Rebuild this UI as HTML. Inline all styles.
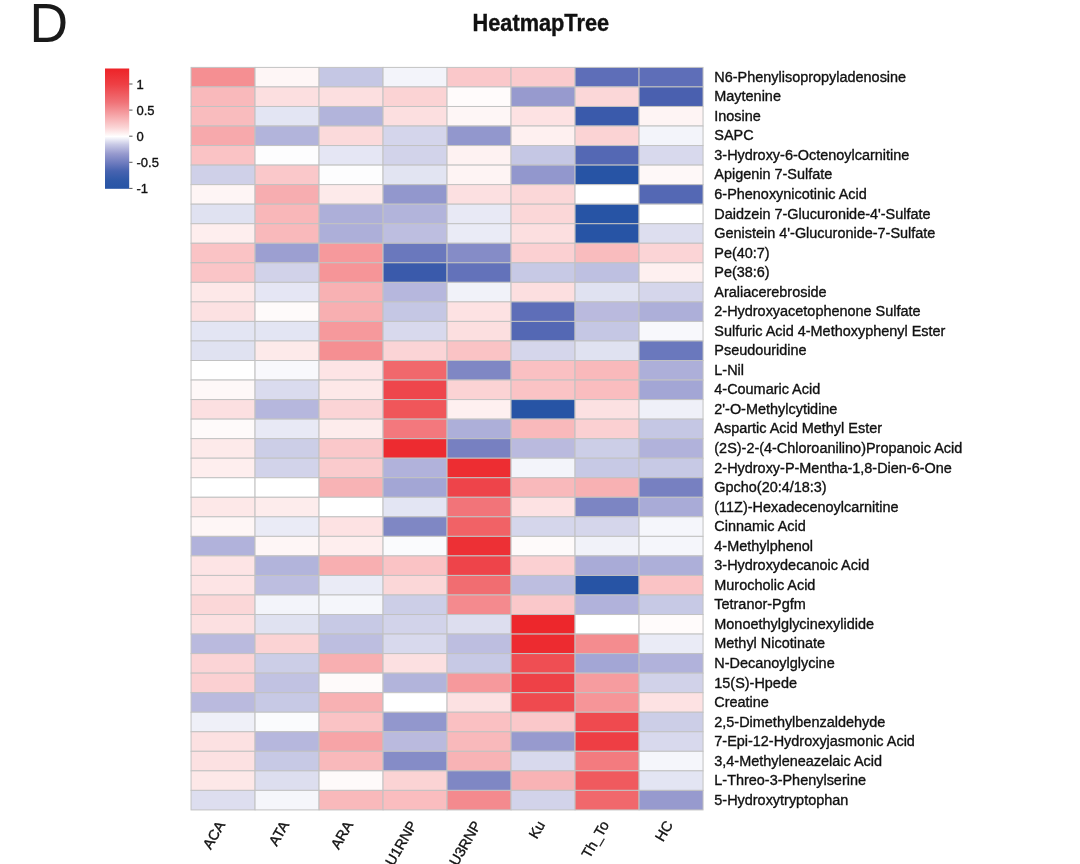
<!DOCTYPE html>
<html><head><meta charset="utf-8"><title>HeatmapTree</title>
<style>
html,body{margin:0;padding:0;background:#fff;}
body{width:1080px;height:864px;overflow:hidden;position:relative;font-family:"Liberation Sans",sans-serif;}
svg{position:absolute;left:0;top:0;}
text{font-family:"Liberation Sans",sans-serif;fill:#111;stroke:#111;stroke-width:0.35px;}
</style></head><body>
<svg width="1080" height="864" viewBox="0 0 1080 864">
<defs><linearGradient id="lg" x1="0" y1="0" x2="0" y2="1">
<stop offset="0.0000" stop-color="#ED2328"/><stop offset="0.1304" stop-color="#EE3F44"/><stop offset="0.2826" stop-color="#F07378"/><stop offset="0.3913" stop-color="#F6A6A9"/><stop offset="0.4913" stop-color="#FBD5D6"/><stop offset="0.5652" stop-color="#FFFFFF"/><stop offset="0.6304" stop-color="#C9CAE6"/><stop offset="0.7087" stop-color="#979ACE"/><stop offset="0.7826" stop-color="#6F7CBF"/><stop offset="0.8522" stop-color="#4763B0"/><stop offset="0.9261" stop-color="#3059A8"/><stop offset="1.0000" stop-color="#2754A5"/></linearGradient></defs>
<text transform="translate(29.4,42.3) scale(0.955,1)" font-size="56" style="fill:#1a1a1a;stroke:none">D</text>
<text transform="translate(540.8,31.3) scale(1,1.06)" font-size="21.75" font-weight="bold" text-anchor="middle">HeatmapTree</text>
<rect x="105" y="68.5" width="24.2" height="120.3" fill="url(#lg)"/>
<line x1="129.2" x2="132.5" y1="84.0" y2="84.0" stroke="#555" stroke-width="1"/><text x="136.5" y="88.7" font-size="13">1</text>
<line x1="129.2" x2="132.5" y1="110.1" y2="110.1" stroke="#555" stroke-width="1"/><text x="136.5" y="114.8" font-size="13">0.5</text>
<line x1="129.2" x2="132.5" y1="136.2" y2="136.2" stroke="#555" stroke-width="1"/><text x="136.5" y="140.9" font-size="13">0</text>
<line x1="129.2" x2="132.5" y1="162.3" y2="162.3" stroke="#555" stroke-width="1"/><text x="136.5" y="167.0" font-size="13">-0.5</text>
<line x1="129.2" x2="132.5" y1="188.4" y2="188.4" stroke="#555" stroke-width="1"/><text x="136.5" y="193.1" font-size="13">-1</text>
<g stroke="#C2C2C2" stroke-width="1">
<rect x="191.05" y="67.40" width="64.00" height="19.54" fill="#F58F92"/><rect x="255.05" y="67.40" width="64.00" height="19.54" fill="#FEF6F6"/><rect x="319.05" y="67.40" width="64.00" height="19.54" fill="#C5C7E4"/><rect x="383.05" y="67.40" width="64.00" height="19.54" fill="#F3F4FA"/><rect x="447.05" y="67.40" width="64.00" height="19.54" fill="#FAC8CA"/><rect x="511.05" y="67.40" width="64.00" height="19.54" fill="#FACBCD"/><rect x="575.05" y="67.40" width="64.00" height="19.54" fill="#5E6EB8"/><rect x="639.05" y="67.40" width="64.00" height="19.54" fill="#5E6EB8"/>
<rect x="191.05" y="86.94" width="64.00" height="19.54" fill="#F9B9BB"/><rect x="255.05" y="86.94" width="64.00" height="19.54" fill="#FCDFE0"/><rect x="319.05" y="86.94" width="64.00" height="19.54" fill="#FCDFE0"/><rect x="383.05" y="86.94" width="64.00" height="19.54" fill="#FBD3D4"/><rect x="447.05" y="86.94" width="64.00" height="19.54" fill="#FFFBFB"/><rect x="511.05" y="86.94" width="64.00" height="19.54" fill="#979ACE"/><rect x="575.05" y="86.94" width="64.00" height="19.54" fill="#FBD7D8"/><rect x="639.05" y="86.94" width="64.00" height="19.54" fill="#4A60AF"/>
<rect x="191.05" y="106.48" width="64.00" height="19.54" fill="#F9BCBE"/><rect x="255.05" y="106.48" width="64.00" height="19.54" fill="#E3E5F3"/><rect x="319.05" y="106.48" width="64.00" height="19.54" fill="#B2B4DB"/><rect x="383.05" y="106.48" width="64.00" height="19.54" fill="#FCDFE0"/><rect x="447.05" y="106.48" width="64.00" height="19.54" fill="#FEF6F6"/><rect x="511.05" y="106.48" width="64.00" height="19.54" fill="#FDE2E3"/><rect x="575.05" y="106.48" width="64.00" height="19.54" fill="#3A5AAB"/><rect x="639.05" y="106.48" width="64.00" height="19.54" fill="#FEF4F4"/>
<rect x="191.05" y="126.02" width="64.00" height="19.54" fill="#F7A9AC"/><rect x="255.05" y="126.02" width="64.00" height="19.54" fill="#B2B4DB"/><rect x="319.05" y="126.02" width="64.00" height="19.54" fill="#FBDADB"/><rect x="383.05" y="126.02" width="64.00" height="19.54" fill="#D4D5EB"/><rect x="447.05" y="126.02" width="64.00" height="19.54" fill="#9297CD"/><rect x="511.05" y="126.02" width="64.00" height="19.54" fill="#FEF0F0"/><rect x="575.05" y="126.02" width="64.00" height="19.54" fill="#FBD3D4"/><rect x="639.05" y="126.02" width="64.00" height="19.54" fill="#F3F4FA"/>
<rect x="191.05" y="145.56" width="64.00" height="19.54" fill="#FAC3C5"/><rect x="255.05" y="145.56" width="64.00" height="19.54" fill="#FDFDFE"/><rect x="319.05" y="145.56" width="64.00" height="19.54" fill="#E5E6F4"/><rect x="383.05" y="145.56" width="64.00" height="19.54" fill="#D2D3EA"/><rect x="447.05" y="145.56" width="64.00" height="19.54" fill="#FEF2F2"/><rect x="511.05" y="145.56" width="64.00" height="19.54" fill="#C5C7E4"/><rect x="575.05" y="145.56" width="64.00" height="19.54" fill="#5468B4"/><rect x="639.05" y="145.56" width="64.00" height="19.54" fill="#D8D9ED"/>
<rect x="191.05" y="165.10" width="64.00" height="19.54" fill="#CFD0E8"/><rect x="255.05" y="165.10" width="64.00" height="19.54" fill="#FAC8CA"/><rect x="319.05" y="165.10" width="64.00" height="19.54" fill="#FDFDFE"/><rect x="383.05" y="165.10" width="64.00" height="19.54" fill="#E2E4F2"/><rect x="447.05" y="165.10" width="64.00" height="19.54" fill="#FEF4F4"/><rect x="511.05" y="165.10" width="64.00" height="19.54" fill="#9297CD"/><rect x="575.05" y="165.10" width="64.00" height="19.54" fill="#2754A5"/><rect x="639.05" y="165.10" width="64.00" height="19.54" fill="#FEF8F8"/>
<rect x="191.05" y="184.64" width="64.00" height="19.54" fill="#FEF5F5"/><rect x="255.05" y="184.64" width="64.00" height="19.54" fill="#F7ADB0"/><rect x="319.05" y="184.64" width="64.00" height="19.54" fill="#FDEAEA"/><rect x="383.05" y="184.64" width="64.00" height="19.54" fill="#9297CD"/><rect x="447.05" y="184.64" width="64.00" height="19.54" fill="#FCE0E1"/><rect x="511.05" y="184.64" width="64.00" height="19.54" fill="#FBD7D8"/><rect x="575.05" y="184.64" width="64.00" height="19.54" fill="#FFFFFF"/><rect x="639.05" y="184.64" width="64.00" height="19.54" fill="#5468B4"/>
<rect x="191.05" y="204.18" width="64.00" height="19.54" fill="#E0E2F1"/><rect x="255.05" y="204.18" width="64.00" height="19.54" fill="#F9B7B9"/><rect x="319.05" y="204.18" width="64.00" height="19.54" fill="#ADAFD9"/><rect x="383.05" y="204.18" width="64.00" height="19.54" fill="#B2B4DB"/><rect x="447.05" y="204.18" width="64.00" height="19.54" fill="#E8E9F5"/><rect x="511.05" y="204.18" width="64.00" height="19.54" fill="#FBD7D8"/><rect x="575.05" y="204.18" width="64.00" height="19.54" fill="#2754A5"/><rect x="639.05" y="204.18" width="64.00" height="19.54" fill="#FFFFFF"/>
<rect x="191.05" y="223.72" width="64.00" height="19.54" fill="#FEEEEE"/><rect x="255.05" y="223.72" width="64.00" height="19.54" fill="#F9B9BB"/><rect x="319.05" y="223.72" width="64.00" height="19.54" fill="#ADAFD9"/><rect x="383.05" y="223.72" width="64.00" height="19.54" fill="#BDBEE0"/><rect x="447.05" y="223.72" width="64.00" height="19.54" fill="#EAEBF6"/><rect x="511.05" y="223.72" width="64.00" height="19.54" fill="#FCDFE0"/><rect x="575.05" y="223.72" width="64.00" height="19.54" fill="#2754A5"/><rect x="639.05" y="223.72" width="64.00" height="19.54" fill="#DDDEEF"/>
<rect x="191.05" y="243.26" width="64.00" height="19.54" fill="#FAC3C5"/><rect x="255.05" y="243.26" width="64.00" height="19.54" fill="#9C9FD1"/><rect x="319.05" y="243.26" width="64.00" height="19.54" fill="#F6999C"/><rect x="383.05" y="243.26" width="64.00" height="19.54" fill="#6A78BD"/><rect x="447.05" y="243.26" width="64.00" height="19.54" fill="#858CC7"/><rect x="511.05" y="243.26" width="64.00" height="19.54" fill="#FBD0D2"/><rect x="575.05" y="243.26" width="64.00" height="19.54" fill="#F9BCBE"/><rect x="639.05" y="243.26" width="64.00" height="19.54" fill="#FBD4D6"/>
<rect x="191.05" y="262.80" width="64.00" height="19.54" fill="#FAC5C7"/><rect x="255.05" y="262.80" width="64.00" height="19.54" fill="#D1D2E9"/><rect x="319.05" y="262.80" width="64.00" height="19.54" fill="#F69598"/><rect x="383.05" y="262.80" width="64.00" height="19.54" fill="#3A5AAB"/><rect x="447.05" y="262.80" width="64.00" height="19.54" fill="#6372BA"/><rect x="511.05" y="262.80" width="64.00" height="19.54" fill="#C7C9E5"/><rect x="575.05" y="262.80" width="64.00" height="19.54" fill="#BEC0E1"/><rect x="639.05" y="262.80" width="64.00" height="19.54" fill="#FEF0F0"/>
<rect x="191.05" y="282.34" width="64.00" height="19.54" fill="#FDE8E8"/><rect x="255.05" y="282.34" width="64.00" height="19.54" fill="#E5E6F4"/><rect x="319.05" y="282.34" width="64.00" height="19.54" fill="#F8B1B3"/><rect x="383.05" y="282.34" width="64.00" height="19.54" fill="#B6B7DD"/><rect x="447.05" y="282.34" width="64.00" height="19.54" fill="#F1F2F9"/><rect x="511.05" y="282.34" width="64.00" height="19.54" fill="#FCDFE0"/><rect x="575.05" y="282.34" width="64.00" height="19.54" fill="#E0E2F1"/><rect x="639.05" y="282.34" width="64.00" height="19.54" fill="#D5D6EB"/>
<rect x="191.05" y="301.88" width="64.00" height="19.54" fill="#FCE1E2"/><rect x="255.05" y="301.88" width="64.00" height="19.54" fill="#FEFAFA"/><rect x="319.05" y="301.88" width="64.00" height="19.54" fill="#F8AFB1"/><rect x="383.05" y="301.88" width="64.00" height="19.54" fill="#C5C7E4"/><rect x="447.05" y="301.88" width="64.00" height="19.54" fill="#FDE2E3"/><rect x="511.05" y="301.88" width="64.00" height="19.54" fill="#5E6EB8"/><rect x="575.05" y="301.88" width="64.00" height="19.54" fill="#BABADE"/><rect x="639.05" y="301.88" width="64.00" height="19.54" fill="#ADAFD9"/>
<rect x="191.05" y="321.42" width="64.00" height="19.54" fill="#E3E5F3"/><rect x="255.05" y="321.42" width="64.00" height="19.54" fill="#E3E5F3"/><rect x="319.05" y="321.42" width="64.00" height="19.54" fill="#F6999C"/><rect x="383.05" y="321.42" width="64.00" height="19.54" fill="#D8D9ED"/><rect x="447.05" y="321.42" width="64.00" height="19.54" fill="#FCDFE0"/><rect x="511.05" y="321.42" width="64.00" height="19.54" fill="#5468B4"/><rect x="575.05" y="321.42" width="64.00" height="19.54" fill="#C5C7E4"/><rect x="639.05" y="321.42" width="64.00" height="19.54" fill="#F8F8FC"/>
<rect x="191.05" y="340.96" width="64.00" height="19.54" fill="#E0E2F1"/><rect x="255.05" y="340.96" width="64.00" height="19.54" fill="#FDEAEA"/><rect x="319.05" y="340.96" width="64.00" height="19.54" fill="#F58F92"/><rect x="383.05" y="340.96" width="64.00" height="19.54" fill="#FBD4D6"/><rect x="447.05" y="340.96" width="64.00" height="19.54" fill="#FAC3C5"/><rect x="511.05" y="340.96" width="64.00" height="19.54" fill="#D5D6EB"/><rect x="575.05" y="340.96" width="64.00" height="19.54" fill="#E0E2F1"/><rect x="639.05" y="340.96" width="64.00" height="19.54" fill="#6A78BD"/>
<rect x="191.05" y="360.50" width="64.00" height="19.54" fill="#FFFFFF"/><rect x="255.05" y="360.50" width="64.00" height="19.54" fill="#F8F8FC"/><rect x="319.05" y="360.50" width="64.00" height="19.54" fill="#FDE4E5"/><rect x="383.05" y="360.50" width="64.00" height="19.54" fill="#F1686C"/><rect x="447.05" y="360.50" width="64.00" height="19.54" fill="#7F87C4"/><rect x="511.05" y="360.50" width="64.00" height="19.54" fill="#FAC0C2"/><rect x="575.05" y="360.50" width="64.00" height="19.54" fill="#F9B9BB"/><rect x="639.05" y="360.50" width="64.00" height="19.54" fill="#ADAFD9"/>
<rect x="191.05" y="380.04" width="64.00" height="19.54" fill="#FEF8F8"/><rect x="255.05" y="380.04" width="64.00" height="19.54" fill="#DADBEE"/><rect x="319.05" y="380.04" width="64.00" height="19.54" fill="#FDE8E8"/><rect x="383.05" y="380.04" width="64.00" height="19.54" fill="#EE464C"/><rect x="447.05" y="380.04" width="64.00" height="19.54" fill="#FBD3D4"/><rect x="511.05" y="380.04" width="64.00" height="19.54" fill="#FAC3C5"/><rect x="575.05" y="380.04" width="64.00" height="19.54" fill="#FABDBF"/><rect x="639.05" y="380.04" width="64.00" height="19.54" fill="#A3A6D5"/>
<rect x="191.05" y="399.58" width="64.00" height="19.54" fill="#FCE0E1"/><rect x="255.05" y="399.58" width="64.00" height="19.54" fill="#B6B7DD"/><rect x="319.05" y="399.58" width="64.00" height="19.54" fill="#FBD4D6"/><rect x="383.05" y="399.58" width="64.00" height="19.54" fill="#F0565A"/><rect x="447.05" y="399.58" width="64.00" height="19.54" fill="#FEF0F0"/><rect x="511.05" y="399.58" width="64.00" height="19.54" fill="#2754A5"/><rect x="575.05" y="399.58" width="64.00" height="19.54" fill="#FCE1E2"/><rect x="639.05" y="399.58" width="64.00" height="19.54" fill="#EFF0F8"/>
<rect x="191.05" y="419.12" width="64.00" height="19.54" fill="#FEFAFA"/><rect x="255.05" y="419.12" width="64.00" height="19.54" fill="#E8E9F5"/><rect x="319.05" y="419.12" width="64.00" height="19.54" fill="#FDECEC"/><rect x="383.05" y="419.12" width="64.00" height="19.54" fill="#F3787D"/><rect x="447.05" y="419.12" width="64.00" height="19.54" fill="#ADAFD9"/><rect x="511.05" y="419.12" width="64.00" height="19.54" fill="#F9B9BB"/><rect x="575.05" y="419.12" width="64.00" height="19.54" fill="#FBD0D2"/><rect x="639.05" y="419.12" width="64.00" height="19.54" fill="#C5C7E4"/>
<rect x="191.05" y="438.66" width="64.00" height="19.54" fill="#FDEAEA"/><rect x="255.05" y="438.66" width="64.00" height="19.54" fill="#CCCEE7"/><rect x="319.05" y="438.66" width="64.00" height="19.54" fill="#FAC8CA"/><rect x="383.05" y="438.66" width="64.00" height="19.54" fill="#ED2B30"/><rect x="447.05" y="438.66" width="64.00" height="19.54" fill="#7780C1"/><rect x="511.05" y="438.66" width="64.00" height="19.54" fill="#BABADE"/><rect x="575.05" y="438.66" width="64.00" height="19.54" fill="#CCCEE7"/><rect x="639.05" y="438.66" width="64.00" height="19.54" fill="#B1B2DB"/>
<rect x="191.05" y="458.20" width="64.00" height="19.54" fill="#FEEEEE"/><rect x="255.05" y="458.20" width="64.00" height="19.54" fill="#D2D3EA"/><rect x="319.05" y="458.20" width="64.00" height="19.54" fill="#FACBCD"/><rect x="383.05" y="458.20" width="64.00" height="19.54" fill="#B1B2DB"/><rect x="447.05" y="458.20" width="64.00" height="19.54" fill="#ED2D32"/><rect x="511.05" y="458.20" width="64.00" height="19.54" fill="#F3F4FA"/><rect x="575.05" y="458.20" width="64.00" height="19.54" fill="#C7C9E5"/><rect x="639.05" y="458.20" width="64.00" height="19.54" fill="#C7C9E5"/>
<rect x="191.05" y="477.74" width="64.00" height="19.54" fill="#FFFFFF"/><rect x="255.05" y="477.74" width="64.00" height="19.54" fill="#FFFFFF"/><rect x="319.05" y="477.74" width="64.00" height="19.54" fill="#F8B3B5"/><rect x="383.05" y="477.74" width="64.00" height="19.54" fill="#A3A6D5"/><rect x="447.05" y="477.74" width="64.00" height="19.54" fill="#EE444A"/><rect x="511.05" y="477.74" width="64.00" height="19.54" fill="#F9B9BB"/><rect x="575.05" y="477.74" width="64.00" height="19.54" fill="#F8B1B3"/><rect x="639.05" y="477.74" width="64.00" height="19.54" fill="#7780C1"/>
<rect x="191.05" y="497.28" width="64.00" height="19.54" fill="#FDE8E8"/><rect x="255.05" y="497.28" width="64.00" height="19.54" fill="#FDECEC"/><rect x="319.05" y="497.28" width="64.00" height="19.54" fill="#FFFFFF"/><rect x="383.05" y="497.28" width="64.00" height="19.54" fill="#E3E5F3"/><rect x="447.05" y="497.28" width="64.00" height="19.54" fill="#F27479"/><rect x="511.05" y="497.28" width="64.00" height="19.54" fill="#FDE2E3"/><rect x="575.05" y="497.28" width="64.00" height="19.54" fill="#7C85C3"/><rect x="639.05" y="497.28" width="64.00" height="19.54" fill="#A9ABD7"/>
<rect x="191.05" y="516.82" width="64.00" height="19.54" fill="#FEF6F6"/><rect x="255.05" y="516.82" width="64.00" height="19.54" fill="#EAEBF6"/><rect x="319.05" y="516.82" width="64.00" height="19.54" fill="#FDE2E3"/><rect x="383.05" y="516.82" width="64.00" height="19.54" fill="#7F87C4"/><rect x="447.05" y="516.82" width="64.00" height="19.54" fill="#F16266"/><rect x="511.05" y="516.82" width="64.00" height="19.54" fill="#D5D6EB"/><rect x="575.05" y="516.82" width="64.00" height="19.54" fill="#D5D6EB"/><rect x="639.05" y="516.82" width="64.00" height="19.54" fill="#F5F6FB"/>
<rect x="191.05" y="536.36" width="64.00" height="19.54" fill="#B1B2DB"/><rect x="255.05" y="536.36" width="64.00" height="19.54" fill="#FEF6F6"/><rect x="319.05" y="536.36" width="64.00" height="19.54" fill="#FEEEEE"/><rect x="383.05" y="536.36" width="64.00" height="19.54" fill="#FAFBFD"/><rect x="447.05" y="536.36" width="64.00" height="19.54" fill="#ED3035"/><rect x="511.05" y="536.36" width="64.00" height="19.54" fill="#FEFAFA"/><rect x="575.05" y="536.36" width="64.00" height="19.54" fill="#F1F2F9"/><rect x="639.05" y="536.36" width="64.00" height="19.54" fill="#F5F6FB"/>
<rect x="191.05" y="555.90" width="64.00" height="19.54" fill="#FDE4E5"/><rect x="255.05" y="555.90" width="64.00" height="19.54" fill="#B2B4DB"/><rect x="319.05" y="555.90" width="64.00" height="19.54" fill="#F8AFB1"/><rect x="383.05" y="555.90" width="64.00" height="19.54" fill="#FAC3C5"/><rect x="447.05" y="555.90" width="64.00" height="19.54" fill="#EE444A"/><rect x="511.05" y="555.90" width="64.00" height="19.54" fill="#FBD0D2"/><rect x="575.05" y="555.90" width="64.00" height="19.54" fill="#A9ABD7"/><rect x="639.05" y="555.90" width="64.00" height="19.54" fill="#ADAFD9"/>
<rect x="191.05" y="575.44" width="64.00" height="19.54" fill="#FDE4E5"/><rect x="255.05" y="575.44" width="64.00" height="19.54" fill="#BDBEE0"/><rect x="319.05" y="575.44" width="64.00" height="19.54" fill="#EAEBF6"/><rect x="383.05" y="575.44" width="64.00" height="19.54" fill="#FBD7D8"/><rect x="447.05" y="575.44" width="64.00" height="19.54" fill="#F16D71"/><rect x="511.05" y="575.44" width="64.00" height="19.54" fill="#BDBEE0"/><rect x="575.05" y="575.44" width="64.00" height="19.54" fill="#2754A5"/><rect x="639.05" y="575.44" width="64.00" height="19.54" fill="#FAC3C5"/>
<rect x="191.05" y="594.98" width="64.00" height="19.54" fill="#FBD7D8"/><rect x="255.05" y="594.98" width="64.00" height="19.54" fill="#F3F4FA"/><rect x="319.05" y="594.98" width="64.00" height="19.54" fill="#F5F6FB"/><rect x="383.05" y="594.98" width="64.00" height="19.54" fill="#CCCEE7"/><rect x="447.05" y="594.98" width="64.00" height="19.54" fill="#F48A8E"/><rect x="511.05" y="594.98" width="64.00" height="19.54" fill="#FAC8CA"/><rect x="575.05" y="594.98" width="64.00" height="19.54" fill="#B1B2DB"/><rect x="639.05" y="594.98" width="64.00" height="19.54" fill="#C7C9E5"/>
<rect x="191.05" y="614.52" width="64.00" height="19.54" fill="#FCE0E1"/><rect x="255.05" y="614.52" width="64.00" height="19.54" fill="#E0E2F1"/><rect x="319.05" y="614.52" width="64.00" height="19.54" fill="#C7C9E5"/><rect x="383.05" y="614.52" width="64.00" height="19.54" fill="#D2D3EA"/><rect x="447.05" y="614.52" width="64.00" height="19.54" fill="#DDDEEF"/><rect x="511.05" y="614.52" width="64.00" height="19.54" fill="#ED272C"/><rect x="575.05" y="614.52" width="64.00" height="19.54" fill="#FFFFFF"/><rect x="639.05" y="614.52" width="64.00" height="19.54" fill="#FFFBFB"/>
<rect x="191.05" y="634.06" width="64.00" height="19.54" fill="#BABADE"/><rect x="255.05" y="634.06" width="64.00" height="19.54" fill="#FBD3D4"/><rect x="319.05" y="634.06" width="64.00" height="19.54" fill="#BDBEE0"/><rect x="383.05" y="634.06" width="64.00" height="19.54" fill="#D8D9ED"/><rect x="447.05" y="634.06" width="64.00" height="19.54" fill="#BDBEE0"/><rect x="511.05" y="634.06" width="64.00" height="19.54" fill="#ED2B30"/><rect x="575.05" y="634.06" width="64.00" height="19.54" fill="#F48C8F"/><rect x="639.05" y="634.06" width="64.00" height="19.54" fill="#EAEBF6"/>
<rect x="191.05" y="653.60" width="64.00" height="19.54" fill="#FBD4D6"/><rect x="255.05" y="653.60" width="64.00" height="19.54" fill="#CCCEE7"/><rect x="319.05" y="653.60" width="64.00" height="19.54" fill="#F8AFB1"/><rect x="383.05" y="653.60" width="64.00" height="19.54" fill="#FCE0E1"/><rect x="447.05" y="653.60" width="64.00" height="19.54" fill="#C7C9E5"/><rect x="511.05" y="653.60" width="64.00" height="19.54" fill="#EF4E53"/><rect x="575.05" y="653.60" width="64.00" height="19.54" fill="#A3A6D5"/><rect x="639.05" y="653.60" width="64.00" height="19.54" fill="#B1B2DB"/>
<rect x="191.05" y="673.14" width="64.00" height="19.54" fill="#FBD0D2"/><rect x="255.05" y="673.14" width="64.00" height="19.54" fill="#C1C2E2"/><rect x="319.05" y="673.14" width="64.00" height="19.54" fill="#FEFAFA"/><rect x="383.05" y="673.14" width="64.00" height="19.54" fill="#B2B4DB"/><rect x="447.05" y="673.14" width="64.00" height="19.54" fill="#F6999C"/><rect x="511.05" y="673.14" width="64.00" height="19.54" fill="#EE4147"/><rect x="575.05" y="673.14" width="64.00" height="19.54" fill="#F69C9F"/><rect x="639.05" y="673.14" width="64.00" height="19.54" fill="#D1D2E9"/>
<rect x="191.05" y="692.68" width="64.00" height="19.54" fill="#BABADE"/><rect x="255.05" y="692.68" width="64.00" height="19.54" fill="#C7C9E5"/><rect x="319.05" y="692.68" width="64.00" height="19.54" fill="#F8B1B3"/><rect x="383.05" y="692.68" width="64.00" height="19.54" fill="#FFFFFF"/><rect x="447.05" y="692.68" width="64.00" height="19.54" fill="#FCE1E2"/><rect x="511.05" y="692.68" width="64.00" height="19.54" fill="#EF4A4F"/><rect x="575.05" y="692.68" width="64.00" height="19.54" fill="#F69598"/><rect x="639.05" y="692.68" width="64.00" height="19.54" fill="#FDE2E3"/>
<rect x="191.05" y="712.22" width="64.00" height="19.54" fill="#EFF0F8"/><rect x="255.05" y="712.22" width="64.00" height="19.54" fill="#FAFBFD"/><rect x="319.05" y="712.22" width="64.00" height="19.54" fill="#FAC3C5"/><rect x="383.05" y="712.22" width="64.00" height="19.54" fill="#9297CD"/><rect x="447.05" y="712.22" width="64.00" height="19.54" fill="#FAC0C2"/><rect x="511.05" y="712.22" width="64.00" height="19.54" fill="#FAC8CA"/><rect x="575.05" y="712.22" width="64.00" height="19.54" fill="#EF4A4F"/><rect x="639.05" y="712.22" width="64.00" height="19.54" fill="#CCCEE7"/>
<rect x="191.05" y="731.76" width="64.00" height="19.54" fill="#FCE1E2"/><rect x="255.05" y="731.76" width="64.00" height="19.54" fill="#B6B7DD"/><rect x="319.05" y="731.76" width="64.00" height="19.54" fill="#F7A4A7"/><rect x="383.05" y="731.76" width="64.00" height="19.54" fill="#BABADE"/><rect x="447.05" y="731.76" width="64.00" height="19.54" fill="#F9B9BB"/><rect x="511.05" y="731.76" width="64.00" height="19.54" fill="#979ACE"/><rect x="575.05" y="731.76" width="64.00" height="19.54" fill="#EE3E44"/><rect x="639.05" y="731.76" width="64.00" height="19.54" fill="#D8D9ED"/>
<rect x="191.05" y="751.30" width="64.00" height="19.54" fill="#FCE1E2"/><rect x="255.05" y="751.30" width="64.00" height="19.54" fill="#C7C9E5"/><rect x="319.05" y="751.30" width="64.00" height="19.54" fill="#F9B9BB"/><rect x="383.05" y="751.30" width="64.00" height="19.54" fill="#858CC7"/><rect x="447.05" y="751.30" width="64.00" height="19.54" fill="#F8B3B5"/><rect x="511.05" y="751.30" width="64.00" height="19.54" fill="#D8D9ED"/><rect x="575.05" y="751.30" width="64.00" height="19.54" fill="#F37B7F"/><rect x="639.05" y="751.30" width="64.00" height="19.54" fill="#F5F6FB"/>
<rect x="191.05" y="770.84" width="64.00" height="19.54" fill="#FDE8E8"/><rect x="255.05" y="770.84" width="64.00" height="19.54" fill="#DDDEEF"/><rect x="319.05" y="770.84" width="64.00" height="19.54" fill="#FEFAFA"/><rect x="383.05" y="770.84" width="64.00" height="19.54" fill="#FBD3D4"/><rect x="447.05" y="770.84" width="64.00" height="19.54" fill="#7F87C4"/><rect x="511.05" y="770.84" width="64.00" height="19.54" fill="#F8B3B5"/><rect x="575.05" y="770.84" width="64.00" height="19.54" fill="#F05A5E"/><rect x="639.05" y="770.84" width="64.00" height="19.54" fill="#E3E5F3"/>
<rect x="191.05" y="790.38" width="64.00" height="19.54" fill="#DDDEEF"/><rect x="255.05" y="790.38" width="64.00" height="19.54" fill="#F5F6FB"/><rect x="319.05" y="790.38" width="64.00" height="19.54" fill="#F9B9BB"/><rect x="383.05" y="790.38" width="64.00" height="19.54" fill="#FABDBF"/><rect x="447.05" y="790.38" width="64.00" height="19.54" fill="#F48A8E"/><rect x="511.05" y="790.38" width="64.00" height="19.54" fill="#D2D3EA"/><rect x="575.05" y="790.38" width="64.00" height="19.54" fill="#F1686C"/><rect x="639.05" y="790.38" width="64.00" height="19.54" fill="#979ACE"/>
</g>
<text x="714.3" y="81.77" font-size="14.45">N6-Phenylisopropyladenosine</text>
<text x="714.3" y="101.31" font-size="14.45">Maytenine</text>
<text x="714.3" y="120.85" font-size="14.45">Inosine</text>
<text x="714.3" y="140.39" font-size="14.45">SAPC</text>
<text x="714.3" y="159.93" font-size="14.45">3-Hydroxy-6-Octenoylcarnitine</text>
<text x="714.3" y="179.47" font-size="14.45">Apigenin 7-Sulfate</text>
<text x="714.3" y="199.01" font-size="14.45">6-Phenoxynicotinic Acid</text>
<text x="714.3" y="218.55" font-size="14.45">Daidzein 7-Glucuronide-4'-Sulfate</text>
<text x="714.3" y="238.09" font-size="14.45">Genistein 4'-Glucuronide-7-Sulfate</text>
<text x="714.3" y="257.63" font-size="14.45">Pe(40:7)</text>
<text x="714.3" y="277.17" font-size="14.45">Pe(38:6)</text>
<text x="714.3" y="296.71" font-size="14.45">Araliacerebroside</text>
<text x="714.3" y="316.25" font-size="14.45">2-Hydroxyacetophenone Sulfate</text>
<text x="714.3" y="335.79" font-size="14.45">Sulfuric Acid 4-Methoxyphenyl Ester</text>
<text x="714.3" y="355.33" font-size="14.45">Pseudouridine</text>
<text x="714.3" y="374.87" font-size="14.45">L-Nil</text>
<text x="714.3" y="394.41" font-size="14.45">4-Coumaric Acid</text>
<text x="714.3" y="413.95" font-size="14.45">2'-O-Methylcytidine</text>
<text x="714.3" y="433.49" font-size="14.45">Aspartic Acid Methyl Ester</text>
<text x="714.3" y="453.03" font-size="14.45">(2S)-2-(4-Chloroanilino)Propanoic Acid</text>
<text x="714.3" y="472.57" font-size="14.45">2-Hydroxy-P-Mentha-1,8-Dien-6-One</text>
<text x="714.3" y="492.11" font-size="14.45">Gpcho(20:4/18:3)</text>
<text x="714.3" y="511.65" font-size="14.45">(11Z)-Hexadecenoylcarnitine</text>
<text x="714.3" y="531.19" font-size="14.45">Cinnamic Acid</text>
<text x="714.3" y="550.73" font-size="14.45">4-Methylphenol</text>
<text x="714.3" y="570.27" font-size="14.45">3-Hydroxydecanoic Acid</text>
<text x="714.3" y="589.81" font-size="14.45">Murocholic Acid</text>
<text x="714.3" y="609.35" font-size="14.45">Tetranor-Pgfm</text>
<text x="714.3" y="628.89" font-size="14.45">Monoethylglycinexylidide</text>
<text x="714.3" y="648.43" font-size="14.45">Methyl Nicotinate</text>
<text x="714.3" y="667.97" font-size="14.45">N-Decanoylglycine</text>
<text x="714.3" y="687.51" font-size="14.45">15(S)-Hpede</text>
<text x="714.3" y="707.05" font-size="14.45">Creatine</text>
<text x="714.3" y="726.59" font-size="14.45">2,5-Dimethylbenzaldehyde</text>
<text x="714.3" y="746.13" font-size="14.45">7-Epi-12-Hydroxyjasmonic Acid</text>
<text x="714.3" y="765.67" font-size="14.45">3,4-Methyleneazelaic Acid</text>
<text x="714.3" y="785.21" font-size="14.45">L-Threo-3-Phenylserine</text>
<text x="714.3" y="804.75" font-size="14.45">5-Hydroxytryptophan</text>
<text transform="translate(225.6,824.6) rotate(-60)" font-size="14.4" text-anchor="end">ACA</text>
<text transform="translate(289.6,824.6) rotate(-60)" font-size="14.4" text-anchor="end">ATA</text>
<text transform="translate(353.6,824.6) rotate(-60)" font-size="14.4" text-anchor="end">ARA</text>
<text transform="translate(417.6,824.6) rotate(-60)" font-size="14.4" text-anchor="end">U1RNP</text>
<text transform="translate(481.6,824.6) rotate(-60)" font-size="14.4" text-anchor="end">U3RNP</text>
<text transform="translate(545.5,824.6) rotate(-60)" font-size="14.4" text-anchor="end">Ku</text>
<text transform="translate(609.5,824.6) rotate(-60)" font-size="14.4" text-anchor="end">Th_To</text>
<text transform="translate(673.5,824.6) rotate(-60)" font-size="14.4" text-anchor="end">HC</text>
</svg></body></html>
